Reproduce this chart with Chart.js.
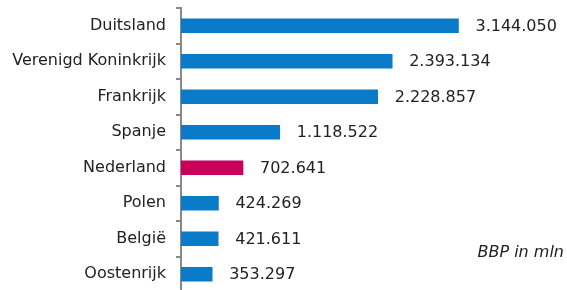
<!DOCTYPE html>
<html>
<head>
<meta charset="utf-8">
<script src="https://cdn.jsdelivr.net/npm/chart.js@4/dist/chart.umd.min.js"></script>
<style>
  html, body { margin: 0; padding: 0; background: #fff; overflow: hidden; width: 567px; height: 290px; }
  #wrap { width: 567px; height: 292px; position: relative; }
</style>
</head>
<body>
<div id="wrap"><canvas id="c" width="567" height="292"></canvas></div>
<script>
const categories = ["Duitsland", "Verenigd Koninkrijk", "Frankrijk", "Spanje", "Nederland", "Polen", "België", "Oostenrijk"];
const values = [3144050, 2393134, 2228857, 1118522, 702641, 424269, 421611, 353297];
const highlight = "Nederland";
const unitNote = "BBP in mln";

const BLUE = "#0a7bc9";
const RED = "#c8005a";
const FONT = "'DejaVu Sans', Verdana, sans-serif";

function fmt(v) {
  return String(v).replace(/\B(?=(\d{3})+(?!\d))/g, ".");
}

const valueLabels = {
  id: "valueLabels",
  afterDatasetsDraw(chart) {
    const ctx = chart.ctx;
    const meta = chart.getDatasetMeta(0);
    ctx.save();
    ctx.font = "16px " + FONT;
    ctx.fillStyle = "#222";
    ctx.textAlign = "left";
    ctx.textBaseline = "middle";
    meta.data.forEach((bar, i) => {
      ctx.fillText(fmt(values[i]), bar.x + 17, bar.y + 1);
    });
    ctx.font = "italic 16px " + FONT;
    ctx.textAlign = "right";
    ctx.textBaseline = "alphabetic";
    ctx.fillText(unitNote, 564, 257);
    ctx.restore();
  }
};

new Chart(document.getElementById("c"), {
  type: "bar",
  data: {
    labels: categories,
    datasets: [{
      data: values,
      backgroundColor: categories.map(c => c === highlight ? RED : BLUE),
      barThickness: 14,
      borderWidth: 0
    }]
  },
  options: {
    indexAxis: "y",
    responsive: false,
    animation: false,
    devicePixelRatio: 1,
    layout: { padding: { top: 8, right: 33, bottom: 0, left: 0 } },
    plugins: { legend: { display: false }, tooltip: { enabled: false }, title: { display: false } },
    scales: {
      x: { display: false, min: 0, max: 4000000 },
      y: {
        afterFit(scale) { scale.width = 181; scale.paddingTop = 0; scale.paddingBottom = 0; },
        border: { display: true, color: "#888", width: 2 },
        grid: { drawOnChartArea: false, drawTicks: true, tickLength: 5, color: "#888", lineWidth: 2, offset: true },
        ticks: { color: "#222", font: { family: FONT, size: 16 }, padding: 10 }
      }
    }
  },
  plugins: [valueLabels]
});
</script>
</body>
</html>
